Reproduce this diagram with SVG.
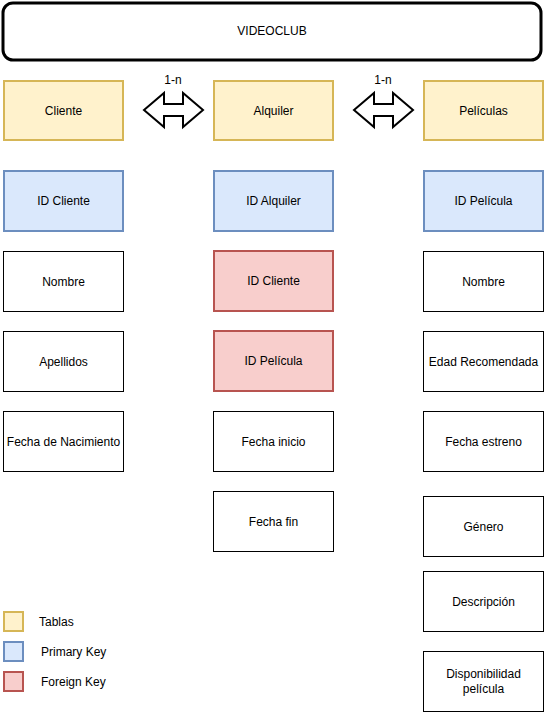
<svg xmlns="http://www.w3.org/2000/svg" width="545" height="712" viewBox="0 0 545 712">
<style>
text{font-family:"Liberation Sans",Arial,sans-serif;font-size:12px;fill:#000;}
.c{text-anchor:middle;dominant-baseline:central;}
.l{dominant-baseline:central;}
.w{fill:#fff;stroke:#000;stroke-width:1;}
.y{fill:#fff2cc;stroke:#d6b656;stroke-width:2;}
.b{fill:#dae8fc;stroke:#6c8ebf;stroke-width:2;}
.r{fill:#f8cecc;stroke:#b85450;stroke-width:2;}
.arr{fill:#fff;stroke:#000;stroke-width:2;stroke-linejoin:miter;}
</style>
<rect width="545" height="712" fill="#fff"/>
<g id="videoclub"><rect x="3" y="3" width="538" height="57" rx="10" fill="#fff" stroke="#000" stroke-width="3"/><text class="c" x="272" y="31">VIDEOCLUB</text></g>

<g id="cliente"><rect class="y" x="4" y="81" width="119" height="59"/><text class="c" x="63.5" y="110.5">Cliente</text></g>
<g id="alquiler"><rect class="y" x="214" y="81" width="119" height="59"/><text class="c" x="273.5" y="110.5">Alquiler</text></g>
<g id="peliculas"><rect class="y" x="424" y="81" width="119" height="59"/><text class="c" x="483.5" y="110.5">Películas</text></g>

<g id="connectors">
<path class="arr" d="M144,110 L164,93 L164,104 L183,104 L183,93 L203,110 L183,127 L183,116 L164,116 L164,127 Z"/>
<path class="arr" d="M354,110 L374,93 L374,104 L393,104 L393,93 L413,110 L393,127 L393,116 L374,116 L374,127 Z"/>
<text class="c" x="173" y="80">1-n</text>
<text class="c" x="383" y="80">1-n</text>
</g>

<g id="id-cliente"><rect class="b" x="4" y="171" width="119" height="60"/><text class="c" x="63.5" y="201">ID Cliente</text></g>
<g id="nombre-cliente"><rect class="w" x="3.5" y="251.5" width="120" height="60"/><text class="c" x="63.5" y="281.5">Nombre</text></g>
<g id="apellidos"><rect class="w" x="3.5" y="331.5" width="120" height="60"/><text class="c" x="63.5" y="361.5">Apellidos</text></g>
<g id="fecha-nacimiento"><rect class="w" x="3.5" y="411.5" width="120" height="60"/><text class="c" x="63.5" y="441.5">Fecha de Nacimiento</text></g>

<g id="id-alquiler"><rect class="b" x="214" y="171" width="119" height="60"/><text class="c" x="273.5" y="201">ID Alquiler</text></g>
<g id="fk-cliente"><rect class="r" x="214" y="251" width="119" height="60"/><text class="c" x="273.5" y="281">ID Cliente</text></g>
<g id="fk-pelicula"><rect class="r" x="214" y="331" width="119" height="60"/><text class="c" x="273.5" y="361">ID Película</text></g>
<g id="fecha-inicio"><rect class="w" x="213.5" y="411.5" width="120" height="60"/><text class="c" x="273.5" y="441.5">Fecha inicio</text></g>
<g id="fecha-fin"><rect class="w" x="213.5" y="491.5" width="120" height="60"/><text class="c" x="273.5" y="521.5">Fecha fin</text></g>

<g id="id-pelicula"><rect class="b" x="424" y="171" width="119" height="60"/><text class="c" x="483.5" y="201">ID Película</text></g>
<g id="nombre-pelicula"><rect class="w" x="423.5" y="251.5" width="120" height="60"/><text class="c" x="483.5" y="281.5">Nombre</text></g>
<g id="edad"><rect class="w" x="423.5" y="331.5" width="120" height="60"/><text class="c" x="483.5" y="361.5">Edad Recomendada</text></g>
<g id="fecha-estreno"><rect class="w" x="423.5" y="411.5" width="120" height="60"/><text class="c" x="483.5" y="441.5">Fecha estreno</text></g>
<g id="genero"><rect class="w" x="423.5" y="496.5" width="120" height="60"/><text class="c" x="483.5" y="526.5">Género</text></g>
<g id="descripcion"><rect class="w" x="423.5" y="571.5" width="120" height="60"/><text class="c" x="483.5" y="601.5">Descripción</text></g>
<g id="disponibilidad"><rect class="w" x="423.5" y="651.5" width="120" height="60"/><text class="c" x="483.5" y="674">Disponibilidad</text><text class="c" x="483.5" y="689">película</text></g>

<g id="legend">
<rect class="y" x="4" y="612" width="19" height="19"/><text class="l" x="39" y="621.5">Tablas</text>
<rect class="b" x="4" y="642" width="19" height="19"/><text class="l" x="41" y="651.5">Primary Key</text>
<rect class="r" x="4" y="672" width="19" height="19"/><text class="l" x="41" y="681.5">Foreign Key</text>
</g>
</svg>
